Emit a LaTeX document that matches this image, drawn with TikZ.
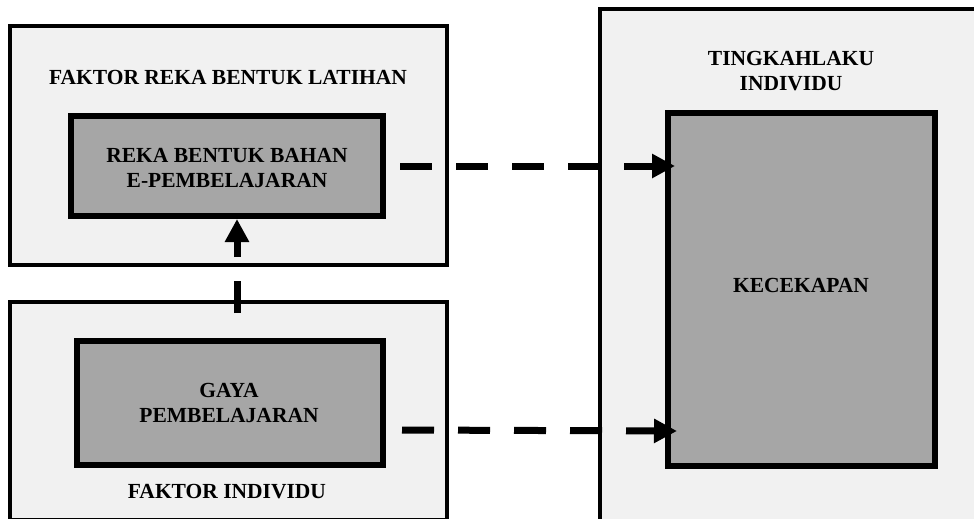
\documentclass[tikz,border=0pt]{standalone}
\usepackage{fontspec}
\setmainfont{Liberation Serif}
\usetikzlibrary{arrows.meta}
\definecolor{outerfill}{RGB}{241,241,241}
\definecolor{innerfill}{RGB}{166,166,166}
\tikzset{
  outerbox/.style={draw=black, line width=4.5pt, fill=outerfill},
  innerbox/.style={draw=black, line width=5.5pt, fill=innerfill},
  lbl/.style={font=\fontsize{21.5}{25}\selectfont\bfseries, align=center, inner sep=0pt},
  flow/.style={line width=7pt, dash pattern=on 32pt off 24pt, -{Triangle[length=23pt,width=23pt]}}
}
\begin{document}
\begin{tikzpicture}[x=1pt,y=-1pt]
\useasboundingbox (0,0) rectangle (974,519);
% outer boxes
\draw[outerbox] (10,26) rectangle (447,265);
\draw[outerbox] (10,302) rectangle (447,520);
\draw[outerbox] (600,9) rectangle (990,530);
% inner boxes
\draw[innerbox] (71,116) rectangle (383,216);
\draw[innerbox] (77,341) rectangle (383,465);
\draw[innerbox] (668,113) rectangle (935,466);
\coordinate (rbe) at (383,166);
\coordinate (rbs) at (237,216);
\coordinate (gpe) at (383,430);
\coordinate (gpn) at (237,341);
\coordinate (kwA) at (668,166);
\coordinate (kwB) at (668,431);
% labels
\node[lbl] (t1) at (228,77) {FAKTOR REKA BENTUK LATIHAN};
\node[lbl] (rb) at (227,168) {REKA BENTUK BAHAN\\E-PEMBELAJARAN};
\node[lbl] (ti) at (791,71) {TINGKAHLAKU\\INDIVIDU};
\node[lbl] (kc) at (801,285) {KECEKAPAN};
\node[lbl] (gp) at (229,403) {GAYA\\PEMBELAJARAN};
\node[lbl] (fi) at (227,492) {FAKTOR INDIVIDU};
% connectors
\draw[flow] ([xshift=17pt]rbe) -- ([xshift=7pt]kwA);
\draw[flow] ([xshift=19pt]gpe) -- ([xshift=9pt]kwB);
\draw[flow] ([yshift=28pt]gpn) -- ([yshift=-3pt]rbs);
\end{tikzpicture}
\end{document}
